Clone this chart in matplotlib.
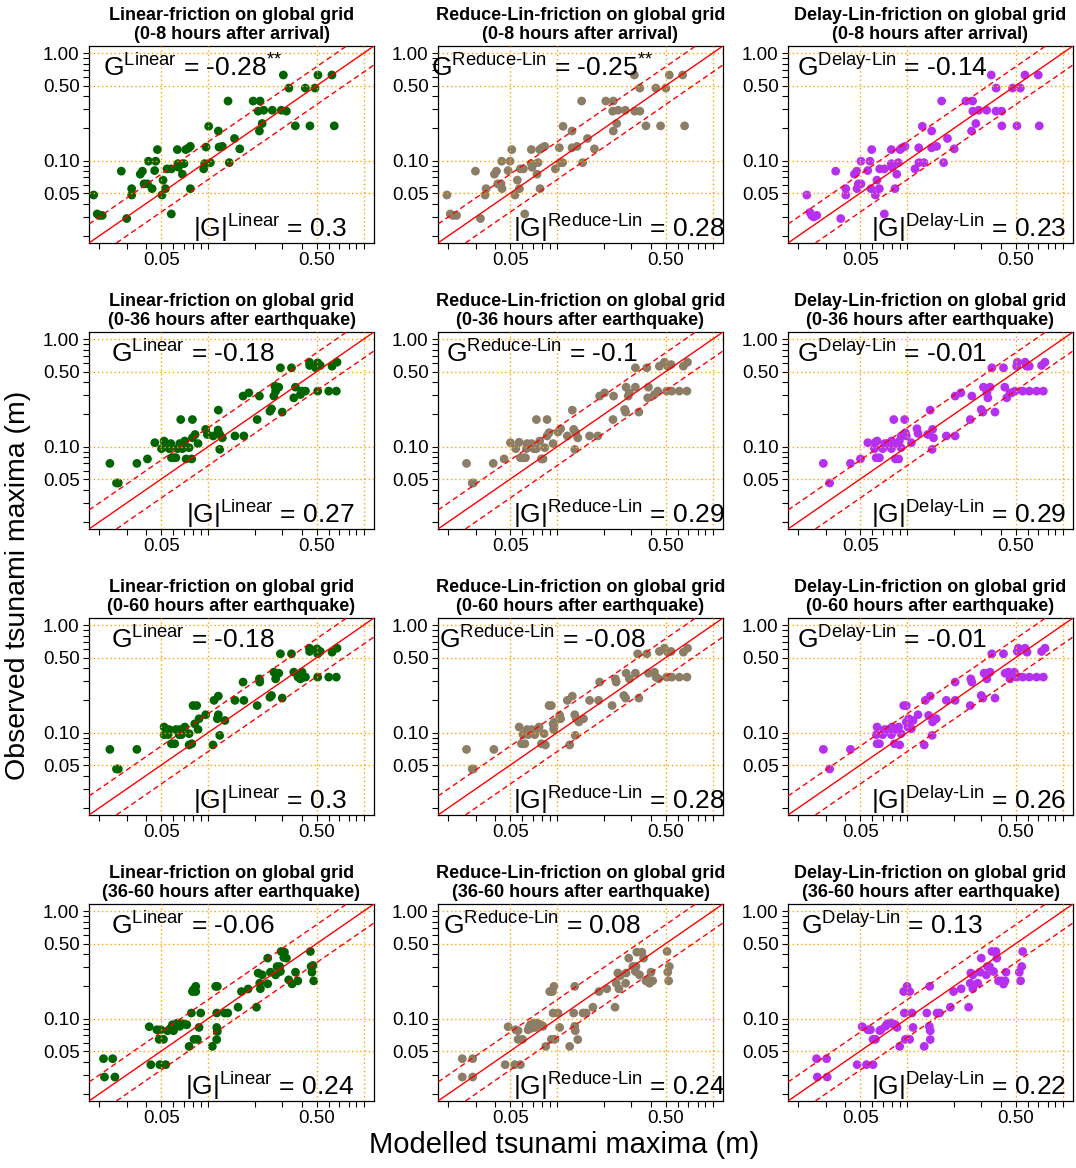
import matplotlib
matplotlib.use('Agg')
import matplotlib.pyplot as plt
from matplotlib.ticker import FixedLocator, FixedFormatter, NullFormatter

plt.rcParams['font.family'] = ['Liberation Sans', 'DejaVu Sans']
plt.rcParams['mathtext.fontset'] = 'custom'
plt.rcParams['mathtext.rm'] = 'Liberation Sans'
plt.rcParams['mathtext.it'] = 'Liberation Sans:italic'
plt.rcParams['mathtext.bf'] = 'Liberation Sans:bold'

# ---- data: modelled (x) and observed (y) tsunami maxima, metres ----
# row 1: 0-8 hours after arrival
r1_lin_mod = [0.0184, 0.0194, 0.0199, 0.0209, 0.0277, 0.0300, 0.0323, 0.0323, 0.0367, 0.0379, 0.0388, 0.0408, 0.0414, 0.0437, 0.0454, 0.0461, 0.0473, 0.0506, 0.0514, 0.0532, 0.0545, 0.0581, 0.0581, 0.0635, 0.0641, 0.0645, 0.0684, 0.0701, 0.0719, 0.0748, 0.0770, 0.0770, 0.0938, 0.0952, 0.0971, 0.101, 0.1035, 0.1165, 0.1177, 0.1236, 0.1345, 0.137, 0.148, 0.160, 0.195, 0.210, 0.214, 0.216, 0.223, 0.228, 0.259, 0.296, 0.305, 0.319, 0.331, 0.364, 0.422, 0.452, 0.487, 0.509, 0.626, 0.648]
r1_lin_obs = [0.048, 0.032, 0.031, 0.031, 0.080, 0.029, 0.055, 0.048, 0.075, 0.080, 0.061, 0.061, 0.099, 0.055, 0.081, 0.099, 0.127, 0.048, 0.066, 0.055, 0.084, 0.084, 0.032, 0.127, 0.094, 0.087, 0.075, 0.094, 0.127, 0.131, 0.136, 0.055, 0.084, 0.094, 0.134, 0.209, 0.096, 0.189, 0.134, 0.136, 0.359, 0.096, 0.161, 0.129, 0.359, 0.289, 0.189, 0.359, 0.222, 0.295, 0.295, 0.295, 0.627, 0.289, 0.474, 0.211, 0.474, 0.211, 0.474, 0.627, 0.627, 0.211]

r1_red_mod = [0.0196, 0.0206, 0.0214, 0.0226, 0.0299, 0.0322, 0.0350, 0.0345, 0.0396, 0.0408, 0.0416, 0.0437, 0.0441, 0.0443, 0.0485, 0.0499, 0.0512, 0.0537, 0.0556, 0.0573, 0.0581, 0.0608, 0.0620, 0.0684, 0.0684, 0.0691, 0.0744, 0.0755, 0.0778, 0.0774, 0.0801, 0.0833, 0.0976, 0.1035, 0.105, 0.1087, 0.1093, 0.1249, 0.1249, 0.1345, 0.144, 0.146, 0.157, 0.174, 0.206, 0.228, 0.230, 0.230, 0.242, 0.247, 0.275, 0.314, 0.316, 0.341, 0.341, 0.373, 0.432, 0.463, 0.501, 0.527, 0.642, 0.661]
r1_red_obs = [0.048, 0.032, 0.031, 0.031, 0.080, 0.029, 0.055, 0.048, 0.075, 0.080, 0.061, 0.061, 0.099, 0.055, 0.081, 0.099, 0.127, 0.048, 0.066, 0.055, 0.084, 0.084, 0.032, 0.127, 0.094, 0.087, 0.075, 0.096, 0.055, 0.127, 0.132, 0.136, 0.084, 0.132, 0.096, 0.096, 0.209, 0.189, 0.132, 0.136, 0.359, 0.096, 0.161, 0.129, 0.359, 0.289, 0.189, 0.359, 0.222, 0.295, 0.295, 0.627, 0.289, 0.289, 0.474, 0.211, 0.474, 0.211, 0.474, 0.627, 0.627, 0.211]

r1_del_mod = [0.0227, 0.0238, 0.0244, 0.0251, 0.0263, 0.0348, 0.0375, 0.0404, 0.0404, 0.0459, 0.0475, 0.0477, 0.0487, 0.0506, 0.0506, 0.0559, 0.0578, 0.0593, 0.0587, 0.0626, 0.0641, 0.0664, 0.0667, 0.0715, 0.0715, 0.0793, 0.0793, 0.0801, 0.0837, 0.0859, 0.0880, 0.0902, 0.0929, 0.0971, 0.1126, 0.1189, 0.1194, 0.1254, 0.1286, 0.144, 0.144, 0.155, 0.167, 0.172, 0.182, 0.201, 0.239, 0.264, 0.260, 0.265, 0.277, 0.289, 0.325, 0.348, 0.373, 0.374, 0.406, 0.407, 0.477, 0.509, 0.535, 0.573, 0.698, 0.708]
r1_del_obs = [0.048, 0.033, 0.031, 0.030, 0.031, 0.080, 0.029, 0.055, 0.048, 0.075, 0.080, 0.055, 0.061, 0.099, 0.061, 0.081, 0.099, 0.127, 0.055, 0.048, 0.066, 0.055, 0.084, 0.084, 0.032, 0.127, 0.094, 0.087, 0.055, 0.075, 0.096, 0.127, 0.132, 0.136, 0.084, 0.132, 0.096, 0.209, 0.096, 0.189, 0.132, 0.136, 0.359, 0.096, 0.161, 0.129, 0.359, 0.359, 0.189, 0.289, 0.222, 0.295, 0.295, 0.627, 0.289, 0.474, 0.289, 0.211, 0.474, 0.211, 0.474, 0.627, 0.627, 0.211]

# row 2: 0-36 hours after earthquake
r2_lin_mod = [0.0234, 0.0258, 0.0265, 0.0349, 0.0408, 0.0455, 0.0502, 0.0522, 0.0535, 0.0562, 0.0576, 0.0582, 0.0605, 0.0621, 0.0636, 0.0658, 0.0668, 0.0685, 0.0709, 0.0723, 0.0756, 0.0786, 0.0794, 0.0794, 0.0826, 0.0863, 0.0966, 0.099, 0.108, 0.1165, 0.116, 0.119, 0.119, 0.1236, 0.149, 0.168, 0.170, 0.183, 0.207, 0.214, 0.250, 0.256, 0.265, 0.269, 0.272, 0.285, 0.292, 0.300, 0.344, 0.356, 0.365, 0.393, 0.402, 0.423, 0.449, 0.450, 0.492, 0.507, 0.507, 0.527, 0.597, 0.627, 0.668, 0.675]
r2_lin_obs = [0.070, 0.046, 0.046, 0.070, 0.077, 0.109, 0.096, 0.113, 0.103, 0.096, 0.107, 0.079, 0.079, 0.079, 0.096, 0.107, 0.179, 0.096, 0.113, 0.077, 0.098, 0.077, 0.179, 0.121, 0.130, 0.107, 0.145, 0.130, 0.126, 0.219, 0.143, 0.0945, 0.130, 0.121, 0.126, 0.296, 0.126, 0.317, 0.179, 0.296, 0.214, 0.225, 0.296, 0.366, 0.329, 0.358, 0.542, 0.210, 0.542, 0.285, 0.358, 0.306, 0.329, 0.329, 0.611, 0.570, 0.542, 0.603, 0.329, 0.570, 0.329, 0.561, 0.329, 0.611]

r2_red_mod = [0.0262, 0.0285, 0.0290, 0.0389, 0.0457, 0.0502, 0.0543, 0.0571, 0.0582, 0.0605, 0.0627, 0.0642, 0.0636, 0.0685, 0.0709, 0.0737, 0.0737, 0.0774, 0.0794, 0.0813, 0.0834, 0.0863, 0.0863, 0.0889, 0.0943, 0.1015, 0.1055, 0.1165, 0.1254, 0.128, 0.130, 0.132, 0.136, 0.162, 0.183, 0.188, 0.202, 0.229, 0.231, 0.272, 0.276, 0.278, 0.287, 0.292, 0.319, 0.319, 0.336, 0.378, 0.383, 0.387, 0.423, 0.444, 0.455, 0.490, 0.507, 0.515, 0.541, 0.546, 0.611, 0.649, 0.684, 0.690]
r2_red_obs = [0.070, 0.046, 0.046, 0.070, 0.077, 0.109, 0.096, 0.110, 0.079, 0.079, 0.079, 0.107, 0.096, 0.107, 0.096, 0.179, 0.096, 0.113, 0.077, 0.077, 0.098, 0.179, 0.126, 0.135, 0.107, 0.137, 0.147, 0.126, 0.219, 0.145, 0.0945, 0.135, 0.121, 0.126, 0.126, 0.296, 0.317, 0.179, 0.296, 0.222, 0.210, 0.358, 0.296, 0.317, 0.358, 0.542, 0.210, 0.542, 0.285, 0.358, 0.306, 0.329, 0.561, 0.611, 0.329, 0.561, 0.581, 0.329, 0.329, 0.561, 0.329, 0.611]

r2_del_mod = [0.0290, 0.0318, 0.0433, 0.0502, 0.0560, 0.0618, 0.0627, 0.0642, 0.0633, 0.0665, 0.0698, 0.0719, 0.0745, 0.0794, 0.0794, 0.0822, 0.0842, 0.0863, 0.0884, 0.0893, 0.0915, 0.0920, 0.0966, 0.0976, 0.099, 0.1066, 0.1159, 0.1177, 0.136, 0.141, 0.145, 0.146, 0.148, 0.179, 0.204, 0.204, 0.222, 0.255, 0.261, 0.300, 0.307, 0.310, 0.326, 0.331, 0.342, 0.351, 0.368, 0.417, 0.425, 0.438, 0.459, 0.470, 0.495, 0.507, 0.512, 0.554, 0.574, 0.588, 0.611, 0.611, 0.681, 0.733, 0.752, 0.771]
r2_del_obs = [0.070, 0.046, 0.070, 0.077, 0.109, 0.096, 0.110, 0.113, 0.079, 0.079, 0.096, 0.107, 0.107, 0.096, 0.113, 0.179, 0.077, 0.107, 0.077, 0.113, 0.098, 0.126, 0.179, 0.135, 0.126, 0.109, 0.147, 0.133, 0.130, 0.219, 0.0945, 0.145, 0.121, 0.126, 0.126, 0.296, 0.317, 0.179, 0.296, 0.222, 0.210, 0.358, 0.317, 0.285, 0.358, 0.542, 0.210, 0.542, 0.358, 0.285, 0.317, 0.317, 0.329, 0.561, 0.611, 0.329, 0.611, 0.561, 0.561, 0.329, 0.329, 0.570, 0.329, 0.611]

# row 3: 0-60 hours after earthquake
r3_lin_mod = [0.0234, 0.0258, 0.0265, 0.0349, 0.0522, 0.0522, 0.0554, 0.0562, 0.0582, 0.0611, 0.0621, 0.0652, 0.0658, 0.0675, 0.0709, 0.0756, 0.0756, 0.0786, 0.0801, 0.0846, 0.0822, 0.0863, 0.0876, 0.0966, 0.1076, 0.1093, 0.1148, 0.1165, 0.1165, 0.119, 0.1285, 0.149, 0.168, 0.170, 0.207, 0.214, 0.215, 0.250, 0.256, 0.265, 0.272, 0.285, 0.292, 0.300, 0.344, 0.356, 0.379, 0.393, 0.402, 0.423, 0.449, 0.450, 0.502, 0.507, 0.507, 0.527, 0.597, 0.627, 0.668, 0.675]
r3_lin_obs = [0.070, 0.046, 0.046, 0.070, 0.113, 0.096, 0.096, 0.107, 0.079, 0.079, 0.107, 0.096, 0.107, 0.096, 0.113, 0.098, 0.077, 0.079, 0.179, 0.179, 0.121, 0.107, 0.135, 0.147, 0.077, 0.200, 0.135, 0.147, 0.219, 0.0945, 0.130, 0.200, 0.296, 0.200, 0.179, 0.317, 0.296, 0.214, 0.222, 0.366, 0.317, 0.358, 0.542, 0.210, 0.542, 0.366, 0.329, 0.317, 0.366, 0.329, 0.611, 0.570, 0.603, 0.329, 0.542, 0.570, 0.329, 0.561, 0.329, 0.611]

r3_red_mod = [0.0262, 0.0285, 0.0290, 0.0393, 0.0571, 0.0591, 0.0605, 0.0621, 0.0642, 0.0652, 0.0685, 0.0719, 0.0737, 0.0767, 0.0794, 0.0826, 0.0842, 0.0889, 0.0920, 0.0943, 0.0952, 0.0957, 0.0966, 0.104, 0.1055, 0.1165, 0.1206, 0.1254, 0.130, 0.131, 0.133, 0.138, 0.148, 0.162, 0.185, 0.188, 0.226, 0.237, 0.240, 0.269, 0.276, 0.278, 0.292, 0.319, 0.330, 0.336, 0.378, 0.387, 0.423, 0.433, 0.450, 0.455, 0.490, 0.507, 0.515, 0.541, 0.546, 0.611, 0.649, 0.684, 0.690]
r3_red_obs = [0.070, 0.046, 0.046, 0.070, 0.113, 0.079, 0.096, 0.079, 0.107, 0.096, 0.107, 0.096, 0.107, 0.113, 0.079, 0.098, 0.077, 0.179, 0.179, 0.121, 0.107, 0.113, 0.126, 0.145, 0.135, 0.200, 0.077, 0.219, 0.147, 0.0945, 0.135, 0.126, 0.135, 0.200, 0.200, 0.296, 0.179, 0.317, 0.296, 0.222, 0.210, 0.358, 0.317, 0.358, 0.542, 0.210, 0.542, 0.358, 0.366, 0.329, 0.317, 0.570, 0.611, 0.329, 0.561, 0.570, 0.329, 0.329, 0.561, 0.329, 0.611]

r3_del_mod = [0.0290, 0.0318, 0.0433, 0.0636, 0.0642, 0.0642, 0.0665, 0.0698, 0.0716, 0.0752, 0.0794, 0.0801, 0.0830, 0.0854, 0.0884, 0.0897, 0.0915, 0.0952, 0.099, 0.099, 0.1015, 0.1025, 0.1066, 0.1093, 0.1177, 0.129, 0.1312, 0.1377, 0.141, 0.145, 0.146, 0.154, 0.179, 0.204, 0.204, 0.255, 0.257, 0.261, 0.300, 0.307, 0.313, 0.326, 0.334, 0.342, 0.351, 0.368, 0.417, 0.427, 0.449, 0.459, 0.490, 0.507, 0.512, 0.519, 0.554, 0.574, 0.591, 0.611, 0.681, 0.733, 0.752, 0.771]
r3_del_obs = [0.070, 0.046, 0.070, 0.096, 0.113, 0.079, 0.079, 0.096, 0.107, 0.107, 0.096, 0.113, 0.079, 0.107, 0.113, 0.077, 0.098, 0.179, 0.179, 0.126, 0.113, 0.135, 0.109, 0.130, 0.147, 0.077, 0.200, 0.145, 0.219, 0.0945, 0.126, 0.135, 0.200, 0.200, 0.296, 0.179, 0.317, 0.296, 0.222, 0.210, 0.358, 0.317, 0.358, 0.366, 0.542, 0.210, 0.542, 0.358, 0.366, 0.317, 0.366, 0.329, 0.570, 0.611, 0.329, 0.611, 0.561, 0.329, 0.329, 0.570, 0.329, 0.611]

# row 4: 36-60 hours after earthquake
r4_lin_mod = [0.0213, 0.0216, 0.0244, 0.0252, 0.0419, 0.0429, 0.0469, 0.0485, 0.0490, 0.0497, 0.0517, 0.0535, 0.0549, 0.0576, 0.0591, 0.0600, 0.0636, 0.0658, 0.0668, 0.0702, 0.073, 0.0756, 0.0782, 0.0794, 0.0805, 0.0813, 0.0834, 0.0834, 0.0854, 0.0876, 0.0898, 0.1066, 0.112, 0.1148, 0.1137, 0.1137, 0.1148, 0.1137, 0.128, 0.134, 0.156, 0.164, 0.181, 0.205, 0.210, 0.215, 0.217, 0.223, 0.242, 0.242, 0.252, 0.272, 0.278, 0.289, 0.292, 0.295, 0.307, 0.310, 0.319, 0.330, 0.347, 0.365, 0.378, 0.455, 0.460, 0.466, 0.473, 0.478]
r4_lin_obs = [0.0425, 0.0287, 0.0425, 0.0287, 0.0843, 0.0374, 0.079, 0.0643, 0.0374, 0.079, 0.0643, 0.0374, 0.0774, 0.0819, 0.088, 0.0774, 0.0912, 0.085, 0.0912, 0.0892, 0.088, 0.0553, 0.113, 0.179, 0.186, 0.0643, 0.200, 0.179, 0.0643, 0.083, 0.113, 0.0553, 0.200, 0.200, 0.113, 0.083, 0.0763, 0.064, 0.113, 0.113, 0.128, 0.179, 0.189, 0.128, 0.266, 0.214, 0.190, 0.256, 0.366, 0.211, 0.271, 0.256, 0.306, 0.306, 0.275, 0.422, 0.371, 0.416, 0.366, 0.230, 0.211, 0.271, 0.225, 0.422, 0.306, 0.271, 0.313, 0.225]

r4_red_mod = [0.0246, 0.0246, 0.0287, 0.0287, 0.0464, 0.0485, 0.0535, 0.0543, 0.0562, 0.0562, 0.0582, 0.0600, 0.0652, 0.0661, 0.0675, 0.0685, 0.0702, 0.0709, 0.073, 0.0744, 0.0767, 0.0794, 0.0813, 0.0846, 0.0898, 0.092, 0.0934, 0.0943, 0.0957, 0.0971, 0.1015, 0.104, 0.1206, 0.128, 0.130, 0.130, 0.131, 0.136, 0.147, 0.154, 0.170, 0.186, 0.209, 0.236, 0.240, 0.246, 0.250, 0.255, 0.276, 0.278, 0.289, 0.307, 0.319, 0.322, 0.326, 0.339, 0.351, 0.360, 0.373, 0.383, 0.393, 0.402, 0.412, 0.510, 0.515, 0.527, 0.522]
r4_red_obs = [0.0425, 0.0287, 0.0425, 0.0287, 0.0374, 0.0843, 0.0374, 0.079, 0.0774, 0.0643, 0.0374, 0.0643, 0.079, 0.083, 0.088, 0.0819, 0.085, 0.0912, 0.083, 0.0912, 0.0892, 0.087, 0.085, 0.0553, 0.179, 0.0643, 0.179, 0.113, 0.200, 0.0643, 0.113, 0.083, 0.0553, 0.113, 0.200, 0.085, 0.0774, 0.064, 0.113, 0.113, 0.128, 0.179, 0.190, 0.128, 0.214, 0.266, 0.190, 0.251, 0.214, 0.266, 0.366, 0.306, 0.275, 0.306, 0.416, 0.256, 0.416, 0.366, 0.225, 0.230, 0.214, 0.271, 0.225, 0.422, 0.271, 0.306, 0.225]

r4_del_mod = [0.0262, 0.0265, 0.0304, 0.0307, 0.0478, 0.0515, 0.0549, 0.0560, 0.0582, 0.0605, 0.0605, 0.0627, 0.0668, 0.0681, 0.0727, 0.0745, 0.0774, 0.0801, 0.0822, 0.0842, 0.0863, 0.0897, 0.0952, 0.0961, 0.0976, 0.100, 0.104, 0.104, 0.1077, 0.1093, 0.129, 0.134, 0.140, 0.139, 0.141, 0.141, 0.156, 0.162, 0.190, 0.199, 0.223, 0.249, 0.255, 0.257, 0.265, 0.265, 0.285, 0.295, 0.300, 0.323, 0.329, 0.339, 0.351, 0.360, 0.373, 0.378, 0.387, 0.406, 0.417, 0.427, 0.433, 0.527, 0.537, 0.546, 0.554]
r4_del_obs = [0.0425, 0.0287, 0.0425, 0.0287, 0.0374, 0.0843, 0.0374, 0.079, 0.079, 0.0643, 0.0374, 0.0643, 0.0774, 0.079, 0.085, 0.0892, 0.0912, 0.0912, 0.088, 0.088, 0.083, 0.0553, 0.179, 0.113, 0.0643, 0.200, 0.0643, 0.179, 0.113, 0.083, 0.0553, 0.113, 0.200, 0.085, 0.0774, 0.064, 0.113, 0.113, 0.128, 0.179, 0.190, 0.128, 0.214, 0.266, 0.190, 0.256, 0.214, 0.271, 0.366, 0.256, 0.306, 0.306, 0.422, 0.275, 0.422, 0.366, 0.225, 0.225, 0.210, 0.225, 0.271, 0.271, 0.225, 0.306, 0.422]

schemes = ['Linear', 'Reduce-Lin', 'Delay-Lin']
periods = ['(0-8 hours after arrival)', '(0-36 hours after earthquake)',
           '(0-60 hours after earthquake)', '(36-60 hours after earthquake)']
colors = ['#006400', '#8B7D66', '#B530F0']

g_vals = [['-0.28', '-0.25', '-0.14'],
          ['-0.18', '-0.1', '-0.01'],
          ['-0.18', '-0.08', '-0.01'],
          ['-0.06', '0.08', '0.13']]
g_star = [[True, True, False], [False] * 3, [False] * 3, [False] * 3]
absg_vals = [['0.3', '0.28', '0.23'],
             ['0.27', '0.29', '0.29'],
             ['0.3', '0.28', '0.26'],
             ['0.24', '0.24', '0.22']]

mod = [[r1_lin_mod, r1_red_mod, r1_del_mod],
       [r2_lin_mod, r2_red_mod, r2_del_mod],
       [r3_lin_mod, r3_red_mod, r3_del_mod],
       [r4_lin_mod, r4_red_mod, r4_del_mod]]
obs = [[r1_lin_obs, r1_red_obs, r1_del_obs],
       [r2_lin_obs, r2_red_obs, r2_del_obs],
       [r3_lin_obs, r3_red_obs, r3_del_obs],
       [r4_lin_obs, r4_red_obs, r4_del_obs]]

W, H = 1076, 1168
fig = plt.figure(figsize=(W / 100, H / 100), dpi=100)

col_left = [89, 438, 788]
row_top = [46, 332, 618, 904]
aw, ah = 285, 197
lims = (10 ** -1.765, 10 ** 0.067)

minor = [0.02, 0.03, 0.04, 0.06, 0.07, 0.08, 0.09, 0.1, 0.2, 0.3, 0.4,
         0.6, 0.7, 0.8, 0.9, 1.0]
yminor = [v for v in minor if v not in (0.1, 1.0)]
grid_at = [0.05, 0.1, 0.5, 1.0]

for r in range(4):
    for c in range(3):
        ax = fig.add_axes([col_left[c] / W, 1 - (row_top[r] + ah) / H, aw / W, ah / H])
        ax.scatter(mod[r][c], obs[r][c], s=40, c=colors[c], edgecolors='none', zorder=2)
        ax.set_xscale('log')
        ax.set_yscale('log')
        ax.set_xlim(*lims)
        ax.set_ylim(*lims)

        for v in grid_at:
            ax.axvline(v, color='orange', ls=(0, (1, 2)), lw=1, zorder=3)
            ax.axhline(v, color='orange', ls=(0, (1, 2)), lw=1, zorder=3)
        ax.axline((0.1, 0.1), (1, 1), color='red', lw=1, zorder=4)
        ax.axline((0.1, 0.15), (1, 1.5), color='red', lw=1, ls=(0, (4, 2.5)), zorder=4)
        ax.axline((0.1, 0.1 / 1.5), (1, 1 / 1.5), color='red', lw=1, ls=(0, (4, 2.5)), zorder=4)

        ax.xaxis.set_major_locator(FixedLocator([0.05, 0.5]))
        ax.xaxis.set_major_formatter(FixedFormatter(['0.05', '0.50']))
        ax.xaxis.set_minor_locator(FixedLocator(minor))
        ax.xaxis.set_minor_formatter(NullFormatter())
        ax.yaxis.set_major_locator(FixedLocator([0.05, 0.1, 0.5, 1.0]))
        ax.yaxis.set_major_formatter(FixedFormatter(['0.05', '0.10', '0.50', '1.00']))
        ax.yaxis.set_minor_locator(FixedLocator(yminor))
        ax.yaxis.set_minor_formatter(NullFormatter())
        ax.tick_params(which='both', direction='out', length=4.3, width=0.8,
                       labelsize=13.5, pad=2.5)
        for sp in ax.spines.values():
            sp.set_linewidth(0.9)

        ax.set_title(schemes[c] + '-friction on global grid\n' + periods[r],
                     fontsize=13, fontweight='bold', pad=5, linespacing=1.15)

        top = r'$\mathrm{G}^{\text{%s}}$ = %s' % (schemes[c], g_vals[r][c])
        if g_star[r][c]:
            top += r'$^{\text{**}}$'
        ax.text(0.365, 0.848, top, transform=ax.transAxes, ha='center',
                va='baseline', fontsize=19, zorder=5)
        bot = r'$|\mathrm{G}|^{\text{%s}}$ = %s' % (schemes[c], absg_vals[r][c])
        ax.text(0.635, 0.03, bot, transform=ax.transAxes, ha='center',
                va='baseline', fontsize=19, zorder=5)

fig.text(18 / W, 1 - 585 / H, 'Observed tsunami maxima (m)', rotation=90,
         ha='center', va='center', fontsize=20.5)
fig.text(564 / W, 1 - 1145 / H, 'Modelled tsunami maxima (m)',
         ha='center', va='center', fontsize=21)

fig.savefig('out.png', dpi=100)
